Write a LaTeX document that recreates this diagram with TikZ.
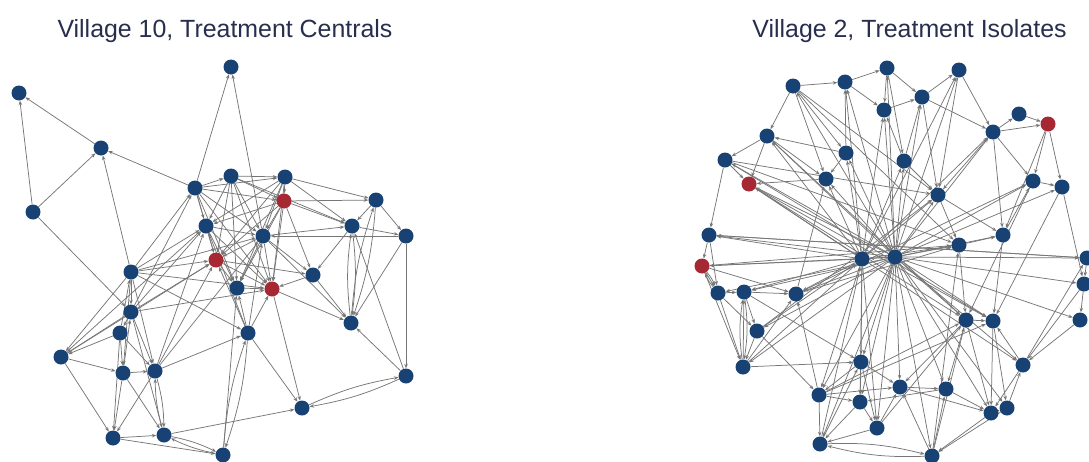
\documentclass[tikz,border=0pt]{standalone}
\usepackage{fontspec}
\setmainfont{Liberation Sans}
\usetikzlibrary{arrows.meta,backgrounds}
\definecolor{netblue}{RGB}{24,66,115}
\definecolor{netred}{RGB}{165,40,50}
\definecolor{edgegray}{RGB}{118,118,118}
\definecolor{titleblue}{RGB}{40,46,78}

\begin{document}
\begin{tikzpicture}[x=1pt,y=-1pt,
  vtx/.style={circle,fill=netblue,inner sep=0pt,minimum size=15pt},
  hot/.style={vtx,fill=netred},
  edge/.style={draw=edgegray,line width=0.75pt,-{Stealth[length=4.5pt,width=3.5pt]}},
  ttl/.style={font=\fontsize{24.9}{28}\selectfont,text=titleblue,anchor=base}]
\useasboundingbox (0,0) rectangle (1089,461);

% titles
\node[ttl] (t1) at (225,37) {Village 10, Treatment Centrals};
\node[ttl] (t2) at (909.5,37) {Village 2, Treatment Isolates};

% ---------- Village 10 vertices ----------
\foreach \n/\x/\y in {a1/231/67, a2/19/93, a3/101/148, a4/33/212, a5/195/188,
  a6/231/176, a7/285/177, a9/376/200, a10/206/226, a11/263/236, a12/352/226,
  a13/406/236, a15/131/272, a16/313/275, a17/237/288, a19/131/312, a20/120/333,
  a21/351/323, a22/248/333, a23/61/357, a24/123/373, a25/155/371, a26/406/376,
  a27/302/408, a28/113/438, a29/164/435, a30/223/455}
  \node[vtx] (\n) at (\x,\y) {};
\foreach \n/\x/\y in {a8/284/201, a14/216/260, a18/272/289}
  \node[hot] (\n) at (\x,\y) {};

% ---------- Village 2 vertices ----------
\foreach \n/\x/\y in {b1/887/68, b2/959/70, b3/793/86, b4/845/82, b5/922/97,
  b6/884/110, b7/1019/114, b9/993/132, b10/767/136, b11/846/153, b12/904/161,
  b13/725/160, b15/826/179, b16/1033/181, b17/1062/187, b18/938/195,
  b19/709/235, b20/1003/235, b21/959/245, b22/862/259, b23/895/257,
  b24/1087/258, b26/1084/284, b27/718/293, b28/744/292, b29/796/294,
  b30/966/320, b31/993/321, b32/1080/320, b33/757/331, b34/743/367,
  b35/861/362, b36/1023/365, b37/819/395, b38/900/387, b39/946/389,
  b40/860/402, b41/991/413, b42/1007/408, b43/877/428, b44/820/444,
  b45/932/456}
  \node[vtx] (\n) at (\x,\y) {};
\foreach \n/\x/\y in {b8/1048/124, b14/749/184, b25/702/266}
  \node[hot] (\n) at (\x,\y) {};

\begin{pgfonlayer}{background}
% ---------- Village 10 ties ----------
\foreach \s/\t in {a5/a1, a11/a1, a3/a2, a4/a2, a4/a3, a5/a3, a15/a3, a4/a19,
  a5/a6, a6/a7, a5/a7, a5/a8, a5/a10, a5/a11, a5/a14, a5/a17, a5/a18,
  a6/a8, a6/a10, a6/a11, a6/a14, a6/a17, a6/a18,
  a7/a8, a7/a10, a7/a11, a7/a14, a7/a17, a7/a18,
  a8/a10, a8/a11, a8/a14, a8/a17, a8/a18,
  a10/a11, a10/a14, a10/a17, a10/a18,
  a11/a14, a11/a17, a11/a18, a14/a17, a14/a18, a17/a18,
  a7/a9, a8/a9, a9/a12, a9/a13, a7/a12, a8/a12, a12/a13, a6/a12, a11/a12,
  a12/a16, a8/a16, a16/a18, a14/a16, a11/a16, a16/a21, a13/a21, a13/a26,
  a26/a21, a26/a12, a11/a21, a18/a27, a22/a27, a13/a11,
  a15/a14, a15/a10, a15/a5, a15/a11, a15/a18, a15/a22, a15/a19, a15/a23,
  a15/a24, a15/a25, a19/a14, a19/a10, a19/a18, a19/a5, a19/a20, a19/a23,
  a19/a25, a19/a29, a20/a23, a20/a24, a20/a28, a20/a25, a20/a15,
  a23/a24, a23/a28, a23/a14, a23/a10, a24/a25, a24/a28, a24/a29, a24/a19,
  a25/a14, a25/a10, a25/a22, a25/a28, a25/a11, a28/a29, a28/a30, a29/a27,
  a30/a17, a22/a17, a22/a18, a22/a14, a22/a11, a22/a10, a18/a21}
  \draw[edge] (\s) -- (\t);
\foreach \s/\t in {a12/a21, a9/a21, a26/a27, a22/a30, a25/a29, a29/a30}
  {\draw[edge] (\s) to[bend left=7] (\t);
   \draw[edge] (\t) to[bend left=7] (\s);}

% ---------- Village 2 ties ----------
\foreach \t in {b1,b2,b3,b4,b5,b6,b9,b10,b11,b12,b13,b14,b15,b16,b17,b18,
  b19,b20,b21,b22,b24,b25,b26,b27,b28,b29,b30,b31,b32,b33,b34,b35,b36,b37,
  b38,b39,b40,b41,b42,b43,b44,b45}
  \draw[edge] (b23) -- (\t);
\foreach \t in {b4,b6,b11,b12,b15,b10,b14,b29,b28,b19,b25,b35,b37,b40,b43,
  b21,b18,b9,b2}
  \draw[edge] (b22) -- (\t);
\foreach \s/\t in {b3/b4, b4/b1, b1/b5, b5/b2, b1/b6, b6/b5, b3/b10, b10/b13,
  b13/b14, b10/b14, b13/b19, b19/b25, b25/b27, b27/b28, b28/b33, b33/b34,
  b27/b33, b28/b29, b34/b28, b34/b29, b37/b44, b37/b40, b40/b43, b43/b38,
  b38/b39, b39/b41, b41/b42, b42/b36, b36/b31, b36/b24, b30/b31, b9/b7,
  b7/b8, b9/b8, b9/b16, b16/b17, b8/b16, b8/b17, b9/b18, b2/b9, b26/b32,
  b24/b26, b21/b20, b20/b16, b32/b36, b35/b40, b35/b43, b35/b37, b35/b38,
  b12/b6, b12/b5, b11/b4, b11/b10, b11/b15, b15/b14, b29/b15, b3/b11,
  b4/b6, b5/b9, b5/b18, b1/b12, b2/b18, b12/b18, b18/b20, b18/b21, b9/b20,
  b16/b30, b17/b31, b20/b31, b21/b30, b30/b39, b31/b42, b30/b41, b30/b38,
  b31/b41, b36/b41, b24/b19, b14/b31, b14/b30, b13/b18, b10/b30, b3/b21,
  b25/b29, b28/b35, b33/b22, b34/b22, b33/b18, b29/b21, b37/b30, b44/b35,
  b45/b38, b45/b30, b45/b39, b43/b44, b40/b44, b37/b29, b37/b38, b39/b40,
  b38/b41, b41/b45, b42/b45, b43/b30, b33/b37, b3/b15, b10/b15, b19/b27,
  b27/b34, b25/b34, b19/b24, b13/b21, b8/b20, b17/b26, b26/b36, b29/b16,
  b14/b36, b13/b31, b25/b21, b3/b18, b44/b22, b45/b21, b34/b35, b37/b31}
  \draw[edge] (\s) -- (\t);
\foreach \s/\t in {b44/b45, b25/b27, b28/b34}
  {\draw[edge] (\s) to[bend left=8] (\t);
   \draw[edge] (\t) to[bend left=8] (\s);}
\end{pgfonlayer}
\end{tikzpicture}
\end{document}
